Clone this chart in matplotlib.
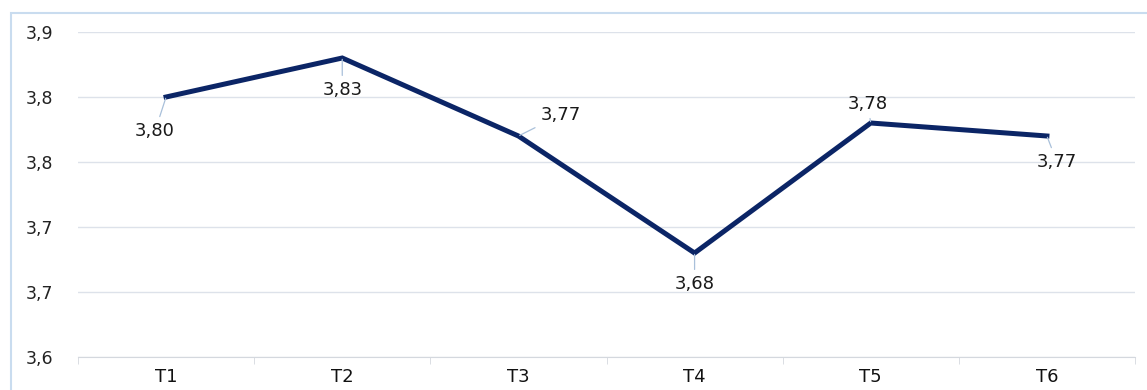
import matplotlib.pyplot as plt
from matplotlib.patches import Rectangle
from matplotlib.ticker import FuncFormatter, MultipleLocator, FixedLocator
from decimal import Decimal, ROUND_HALF_UP

# Mean score per time point
periods = ['T1', 'T2', 'T3', 'T4', 'T5', 'T6']
scores = [3.80, 3.83, 3.77, 3.68, 3.78, 3.77]

# Label placement relative to each point (pixels, y up)
label_offsets = [(-11, -34), (0, -32), (42, 21), (0, -31), (-3, 19), (10, -26)]

LINE_COLOR = '#0b2566'
GRID_COLOR = '#dde2ea'
LEADER_COLOR = '#a9c0da'

plt.rcParams['font.family'] = 'DejaVu Sans'

fig = plt.figure(figsize=(11.47, 3.90), dpi=100)
fig.patch.set_facecolor('white')

# light blue chart frame
fig.add_artist(Rectangle((11 / 1147, -0.1), 1.2, 1 - 13 / 390 + 0.1,
                         transform=fig.transFigure, fill=False,
                         edgecolor='#c9dcef', linewidth=1.5))

ax = fig.add_axes([78 / 1147, 1 - 357 / 390, (1135 - 78) / 1147, (357 - 32) / 390])
x = list(range(len(periods)))
ax.plot(x, scores, color=LINE_COLOR, linewidth=3.6, solid_joinstyle='miter', zorder=3)

for xi, val, (dx, dy) in zip(x, scores, label_offsets):
    ax.annotate(f'{val:.2f}'.replace('.', ','), xy=(xi, val), xytext=(dx, dy),
                textcoords='offset pixels', ha='center', va='center',
                fontsize=13, color='#1a1a1a',
                arrowprops=dict(arrowstyle='-', color=LEADER_COLOR, lw=0.9,
                                shrinkA=2, shrinkB=1))

ax.set_xlim(-0.5, len(periods) - 0.5)
ax.set_ylim(3.60, 3.85)
ax.yaxis.set_major_locator(MultipleLocator(0.05))


def one_decimal(v, pos):
    d = Decimal(str(round(float(v), 4))).quantize(Decimal('0.1'), rounding=ROUND_HALF_UP)
    return str(d).replace('.', ',')


ax.yaxis.set_major_formatter(FuncFormatter(one_decimal))
ax.set_xticks(x)
ax.set_xticklabels(periods)
ax.xaxis.set_minor_locator(FixedLocator([i - 0.5 for i in range(len(periods) + 1)]))

ax.grid(axis='y', color=GRID_COLOR, linewidth=1)
ax.set_axisbelow(True)
for side in ['top', 'right', 'left']:
    ax.spines[side].set_visible(False)
ax.spines['bottom'].set_color('#d4d8de')

ax.tick_params(axis='y', length=0, pad=18, labelsize=12.5, labelcolor='#222222')
ax.tick_params(axis='x', which='major', length=0, pad=8, labelsize=13, labelcolor='#111111')
ax.tick_params(axis='x', which='minor', length=5, color='#d4d8de')

fig.savefig('out.png', dpi=100)
